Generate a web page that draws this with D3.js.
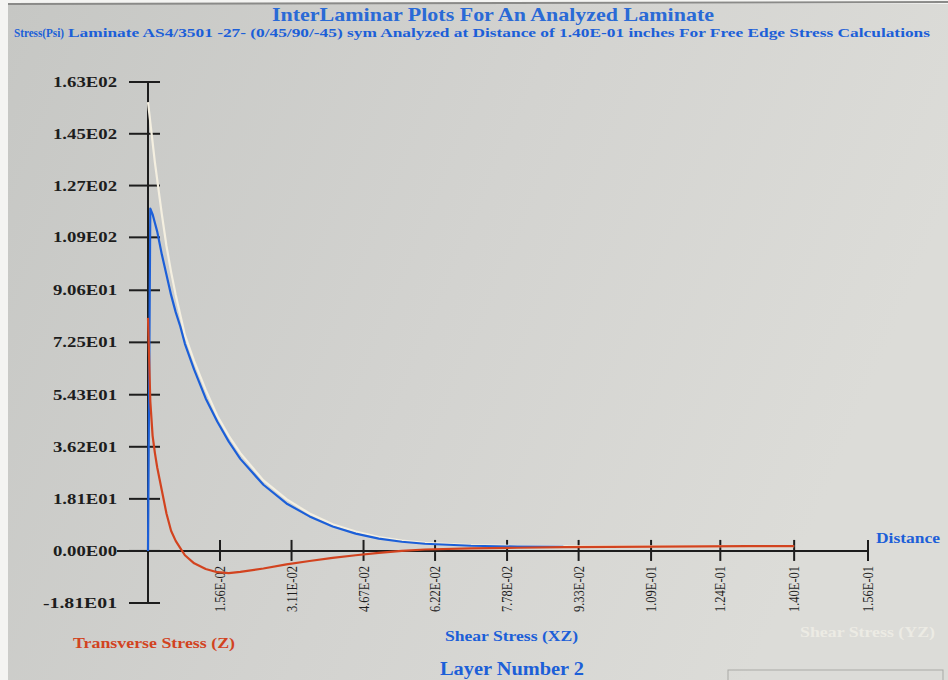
<!DOCTYPE html>
<html>
<head>
<meta charset="utf-8">
<script src="https://cdn.jsdelivr.net/npm/d3@7"></script>
<style>
  html, body { margin: 0; padding: 0; background: #f4f4f2; }
  svg { display: block; }
</style>
</head>
<body>
<div id="chart"></div>
<script>
// distance along the ply interface (inches)
const distance = [0, 0.0005, 0.001, 0.0015, 0.002, 0.0025, 0.003, 0.004, 0.005, 0.006, 0.007, 0.008,
  0.010, 0.0125, 0.015, 0.0175, 0.020, 0.025, 0.030, 0.035, 0.040, 0.045, 0.050, 0.055, 0.060,
  0.070, 0.080, 0.090, 0.100, 0.110, 0.120, 0.130, 0.140];

// stresses (psi)
const transverseZ = [81, 52, 40, 34, 29, 25, 21, 13, 7, 3.5, 1, -1.5,
  -4.3, -6.3, -7.4, -7.7, -7.3, -6.1, -4.7, -3.5, -2.4, -1.5, -0.7, 0, 0.5,
  0.9, 1.1, 1.3, 1.4, 1.5, 1.6, 1.7, 1.7];
const shearXZ = [0, 119, 117, 114, 111, 107, 103, 96, 89, 83, 78, 72,
  63, 53, 45, 38, 32, 23, 16.5, 12, 8.5, 6, 4.3, 3.2, 2.5,
  1.8, 1.5, 1.4, null, null, null, null, null];
const shearYZ = [156, 149, 142, 135, 129, 123, 117, 106, 97, 89, 82, 75,
  66, 56, 47, 40, 34, 24.5, 18, 13, 9.3, 6.7, 4.8, 3.6, 2.8,
  2.0, 1.7, 1.6, 1.6, 1.6, 1.7, 1.7, 1.7];

const yTicks = [-18.1, 0, 18.1, 36.2, 54.3, 72.5, 90.6, 109, 127, 145, 163];
const yTickLabels = ['-1.81E01', '0.00E00', '1.81E01', '3.62E01', '5.43E01', '7.25E01',
  '9.06E01', '1.09E02', '1.27E02', '1.45E02', '1.63E02'];
const xTicks = [0.0156, 0.0311, 0.0467, 0.0622, 0.0778, 0.0933, 0.109, 0.124, 0.140, 0.156];
const xTickLabels = ['1.56E-02', '3.11E-02', '4.67E-02', '6.22E-02', '7.78E-02', '9.33E-02',
  '1.09E-01', '1.24E-01', '1.40E-01', '1.56E-01'];

const width = 948, height = 680;
const blue = '#1c5fd8', red = '#d2431f', cream = '#f4efe0', ink = '#1d1d1d';
const serif = '"Liberation Serif", "DejaVu Serif", serif';

const svg = d3.select('#chart').append('svg')
  .attr('width', width)
  .attr('height', height);

// screen background, a little lighter toward the right
const grad = svg.append('defs').append('linearGradient')
  .attr('id', 'screen').attr('x1', 0).attr('x2', 1).attr('y1', 0).attr('y2', 0.3);
grad.append('stop').attr('offset', 0).attr('stop-color', '#c6c7c4');
grad.append('stop').attr('offset', 0.55).attr('stop-color', '#d3d3d0');
grad.append('stop').attr('offset', 1).attr('stop-color', '#dcdcd8');

svg.append('rect').attr('x', 8).attr('y', 4).attr('width', width - 8).attr('height', height - 4)
  .attr('fill', 'url(#screen)');
svg.append('line').attr('x1', 8).attr('x2', width).attr('y1', 4).attr('y2', 2)
  .attr('stroke', '#8a8a88').attr('stroke-width', 2);
svg.append('rect').attr('x', 728).attr('y', 670).attr('width', 215).attr('height', 14)
  .attr('fill', 'none').attr('stroke', '#a9a9a6').attr('stroke-width', 1);

const x = d3.scaleLinear().domain([0, 0.156]).range([148, 868]);
const y = d3.scaleLinear().domain([-18.1, 163]).range([603, 82]);

// titles
svg.append('text')
  .attr('x', 272).attr('y', 21)
  .attr('textLength', 442).attr('lengthAdjust', 'spacingAndGlyphs')
  .attr('font-family', serif).attr('font-size', 19).attr('font-weight', 'bold')
  .attr('fill', '#2a6ad6')
  .text('InterLaminar Plots For An Analyzed Laminate');

svg.append('text')
  .attr('x', 14).attr('y', 37)
  .attr('textLength', 50).attr('lengthAdjust', 'spacingAndGlyphs')
  .attr('font-family', serif).attr('font-size', 13).attr('font-weight', 'bold')
  .attr('fill', blue)
  .text('Stress(Psi)');
svg.append('text')
  .attr('x', 68).attr('y', 37)
  .attr('textLength', 862).attr('lengthAdjust', 'spacingAndGlyphs')
  .attr('font-family', serif).attr('font-size', 13).attr('font-weight', 'bold')
  .attr('fill', blue)
  .text('Laminate AS4/3501 -27- (0/45/90/-45) sym Analyzed at Distance of 1.40E-01 inches For Free Edge Stress Calculations');

// y axis
const axisG = svg.append('g').attr('stroke', ink).attr('stroke-width', 2);
axisG.append('line')
  .attr('x1', x(0)).attr('x2', x(0))
  .attr('y1', y(163)).attr('y2', y(-18.1));
axisG.selectAll('.ytick').data(yTicks).enter().append('line')
  .attr('class', 'ytick')
  .attr('x1', x(0) - 19).attr('x2', x(0) + 12)
  .attr('y1', d => y(d)).attr('y2', d => y(d));

svg.append('g').selectAll('text').data(yTicks).enter().append('text')
  .attr('x', 117)
  .attr('y', d => y(d) + 5)
  .attr('text-anchor', 'end')
  .attr('textLength', (d, i) => yTickLabels[i].length > 7 ? 74 : 64)
  .attr('lengthAdjust', 'spacingAndGlyphs')
  .attr('font-family', serif).attr('font-size', 14).attr('font-weight', 'bold')
  .attr('fill', ink)
  .text((d, i) => yTickLabels[i]);

// x axis
axisG.append('line')
  .attr('x1', 117).attr('x2', x(0.156))
  .attr('y1', y(0)).attr('y2', y(0));
axisG.selectAll('.xtick').data(xTicks).enter().append('line')
  .attr('class', 'xtick')
  .attr('x1', d => x(d)).attr('x2', d => x(d))
  .attr('y1', y(0) - 11).attr('y2', y(0) + 10);

svg.append('g').selectAll('text').data(xTicks).enter().append('text')
  .attr('transform', d => `translate(${x(d) + 5}, 566) rotate(-90)`)
  .attr('text-anchor', 'end')
  .attr('textLength', 46).attr('lengthAdjust', 'spacingAndGlyphs')
  .attr('font-family', serif).attr('font-size', 14)
  .attr('fill', ink)
  .text((d, i) => xTickLabels[i]);

svg.append('text')
  .attr('x', x(0.156) + 8).attr('y', y(0) - 8)
  .attr('textLength', 64).attr('lengthAdjust', 'spacingAndGlyphs')
  .attr('font-family', serif).attr('font-size', 15).attr('font-weight', 'bold')
  .attr('fill', blue)
  .text('Distance');

// curves
const line = d3.line()
  .defined(d => d[1] !== null)
  .x(d => x(d[0]))
  .y(d => y(d[1]));

const series = [
  { values: shearYZ, color: cream },
  { values: shearXZ, color: blue },
  { values: transverseZ, color: red }
];

svg.append('g').selectAll('path').data(series).enter().append('path')
  .attr('d', s => line(distance.map((d, i) => [d, s.values[i]])))
  .attr('fill', 'none')
  .attr('stroke', s => s.color)
  .attr('stroke-width', 2.2)
  .attr('stroke-linejoin', 'round');

// legend
const legend = [
  { label: 'Transverse Stress (Z)', color: red, x: 73, y: 648, w: 162 },
  { label: 'Shear Stress (XZ)', color: blue, x: 445, y: 641, w: 133 },
  { label: 'Shear Stress (YZ)', color: '#ecebe4', x: 800, y: 637, w: 135 }
];
svg.append('g').selectAll('text').data(legend).enter().append('text')
  .attr('x', d => d.x).attr('y', d => d.y)
  .attr('textLength', d => d.w).attr('lengthAdjust', 'spacingAndGlyphs')
  .attr('font-family', serif).attr('font-size', 15).attr('font-weight', 'bold')
  .attr('fill', d => d.color)
  .text(d => d.label);

svg.append('text')
  .attr('x', 440).attr('y', 675)
  .attr('textLength', 144).attr('lengthAdjust', 'spacingAndGlyphs')
  .attr('font-family', serif).attr('font-size', 18).attr('font-weight', 'bold')
  .attr('fill', blue)
  .text('Layer Number 2');
</script>
</body>
</html>
